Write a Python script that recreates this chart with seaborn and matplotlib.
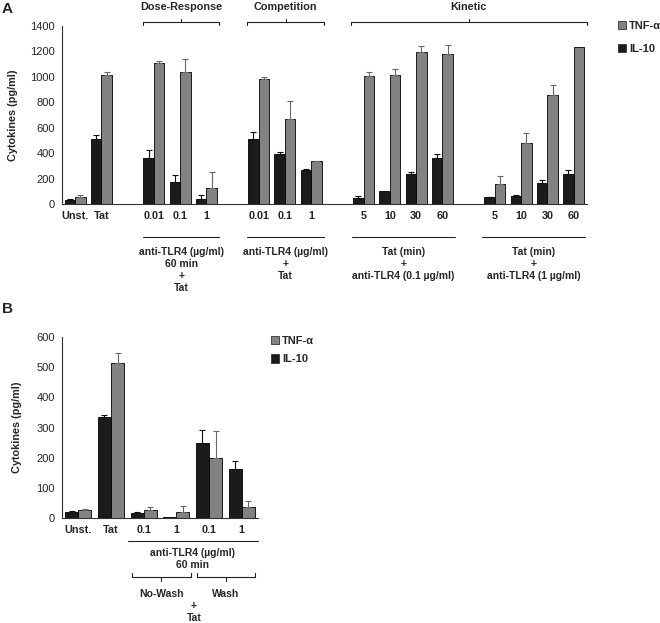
import numpy as np
import pandas as pd
import matplotlib
matplotlib.use('Agg')
import matplotlib.pyplot as plt
import matplotlib.patches as mpatches
import matplotlib.transforms as mtransforms
import seaborn as sns

# ---- data ----
# panel A: slots incl. empty gaps between the groups
slots_a = ['Unst', 'Tat', 'gap1', 'DR_0.01', 'DR_0.1', 'DR_1', 'gap2',
           'C_0.01', 'C_0.1', 'C_1', 'gap3',
           'K01_5', 'K01_10', 'K01_30', 'K01_60', 'gap4',
           'K1_5', 'K1_10', 'K1_30', 'K1_60']
ticks_a = ['Unst.', 'Tat', '', '0.01', '0.1', '1', '', '0.01', '0.1', '1', '',
           '5', '10', '30', '60', '', '5', '10', '30', '60']
il10_a = [31, 511, 359, 176, 42, 511, 393, 267, 47, 100, 233, 362, 52, 63, 168, 238]
il10_a_err = [11, 31, 63, 52, 29, 52, 16, 8, 16, 0, 16, 28, 6, 10, 21, 27]
tnf_a = [55, 1017, 1111, 1038, 123, 982, 671, 335, 1006, 1017, 1197, 1182, 160, 479, 859, 1234]
tnf_a_err = [16, 21, 16, 99, 126, 19, 141, 6, 32, 47, 45, 65, 60, 76, 74, 0]

# panel B
slots_b = ['Unst', 'Tat', 'NW_0.1', 'NW_1', 'W_0.1', 'W_1']
ticks_b = ['Unst.', 'Tat', '0.1', '1', '0.1', '1']
il10_b = [20, 336, 17, 2, 249, 161]
il10_b_err = [2, 6, 4, 0, 43, 27]
tnf_b = [28, 514, 25, 20, 200, 36]
tnf_b_err = [2, 32, 10, 19, 88, 19]

cytokines = ['IL-10', 'TNF-α']
colors = {'IL-10': '#1b1b1b', 'TNF-α': '#828282'}
err_colors = {'IL-10': '#111111', 'TNF-α': '#666666'}

sns.set_theme(style='white')
plt.rcParams['font.family'] = ['Liberation Sans', 'DejaVu Sans']
plt.rcParams['axes.linewidth'] = 0.8


def long_frame(slots, il10, il10_err, tnf, tnf_err):
    keys = [s for s in slots if not s.startswith('gap')]
    df = pd.DataFrame({
        'cond': keys * 2,
        'cytokine': ['IL-10'] * len(keys) + ['TNF-α'] * len(keys),
        'value': il10 + tnf,
        'err': il10_err + tnf_err,
    })
    return df


def draw_panel(ax, df, slots, ticks, ymax, ystep):
    sns.barplot(data=df, x='cond', y='value', hue='cytokine', order=slots,
                hue_order=cytokines, palette=colors, errorbar=None,
                edgecolor='black', linewidth=0.6, width=0.8, legend=False, ax=ax)
    errs = {(r.cond, r.cytokine): r.err for r in df.itertuples()}
    for cyt, cont in zip(cytokines, ax.containers):
        for bar in cont:
            xc = bar.get_x() + bar.get_width() / 2
            h = bar.get_height()
            if np.isnan(h):
                continue
            e = errs.get((slots[int(round(xc))], cyt), 0)
            if e > 0:
                ax.errorbar([xc], [h], yerr=[[0], [e]], fmt='none',
                            ecolor=err_colors[cyt], elinewidth=0.8,
                            capsize=2, capthick=0.8)
    n = len(slots)
    ax.set_xlim(-0.5, n - 0.5)
    ax.set_ylim(0, ymax)
    ax.set_yticks(np.arange(0, ymax + 1, ystep))
    ax.set_xticks(range(n))
    ax.set_xticklabels(ticks, fontweight='bold', fontsize=7.8)
    ax.set_xticks(np.arange(-0.5, n), minor=True)
    ax.tick_params(axis='x', which='major', length=0, pad=5)
    ax.tick_params(axis='x', which='minor', length=3, width=0.8, direction='out', color='#333333')
    ax.tick_params(axis='y', length=3, width=0.8, direction='out', labelsize=8, pad=2, color='#333333')
    ax.set_xlabel('')
    ax.set_ylabel('Cytokines (pg/ml)', fontweight='bold', fontsize=7.8)
    for s in ['top', 'right']:
        ax.spines[s].set_visible(False)
    for s in ['left', 'bottom']:
        ax.spines[s].set_color('#333333')


def hline(ax, x0, x1, y, ticks=()):
    tr = mtransforms.blended_transform_factory(ax.transData, ax.transAxes)
    ax.plot([x0, x1], [y, y], color='#222222', lw=0.8, transform=tr, clip_on=False)
    for xt, dy in ticks:
        ax.plot([xt, xt], [y, y + dy], color='#222222', lw=0.8, transform=tr, clip_on=False)


def label(ax, x, y, s, size=7.5, va='center'):
    tr = mtransforms.blended_transform_factory(ax.transData, ax.transAxes)
    ax.text(x, y, s, transform=tr, ha='center', va=va, fontsize=size,
            fontweight='bold', linespacing=1.25)


fig = plt.figure(figsize=(6.6, 6.23), dpi=100)
axA = fig.add_axes([0.0939, 0.6726, 0.795, 0.2857])
axB = fig.add_axes([0.0939, 0.1685, 0.297, 0.2905])

# ---- panel A ----
dfA = long_frame(slots_a, il10_a, il10_a_err, tnf_a, tnf_a_err)
draw_panel(axA, dfA, slots_a, ticks_a, 1400, 200)
axA.yaxis.set_label_coords(-0.083, 0.5)

# top brackets
for x0, x1, name in [(2.6, 5.5, 'Dose-Response'), (6.55, 9.5, 'Competition'),
                     (10.5, 19.5, 'Kinetic')]:
    hline(axA, x0, x1, 1.0225,
          ticks=[(x0, -0.018), (x1, -0.018), ((x0 + x1) / 2, 0.018)])
    label(axA, (x0 + x1) / 2, 1.136, name, size=7.8, va='top')

# bottom group descriptions
for x0, x1, txt in [(2.6, 5.5, 'anti-TLR4 (µg/ml)\n60 min\n+\nTat'),
                    (6.55, 9.5, 'anti-TLR4 (µg/ml)\n+\nTat'),
                    (10.55, 14.47, 'Tat (min)\n+\nanti-TLR4 (0.1 µg/ml)'),
                    (15.5, 19.45, 'Tat (min)\n+\nanti-TLR4 (1 µg/ml)')]:
    hline(axA, x0, x1, -0.185)
    label(axA, (x0 + x1) / 2, -0.24, txt, va='top')

handles = [mpatches.Patch(facecolor=colors[c], edgecolor='#333333', linewidth=0.6)
           for c in ['TNF-α', 'IL-10']]
axA.legend(handles, ['TNF-α', 'IL-10'], loc='upper left',
           bbox_to_anchor=(618 / 660, 1 - 21 / 623), bbox_transform=fig.transFigure,
           frameon=False, handlelength=0.75, handleheight=0.75, handletextpad=0.25,
           labelspacing=1.15, borderpad=0, borderaxespad=0,
           prop={'weight': 'bold', 'size': 8})

# ---- panel B ----
dfB = long_frame(slots_b, il10_b, il10_b_err, tnf_b, tnf_b_err)
draw_panel(axB, dfB, slots_b, ticks_b, 600, 100)
axB.yaxis.set_label_coords(-0.205, 0.5)

hline(axB, 1.52, 5.5, -0.127)
label(axB, 3.5, -0.163, 'anti-TLR4 (µg/ml)\n60 min', va='top')
for x0, x1, name in [(1.64, 3.45, 'No-Wash'), (3.63, 5.41, 'Wash')]:
    hline(axB, x0, x1, -0.326,
          ticks=[(x0, 0.022), (x1, 0.022), ((x0 + x1) / 2, -0.022)])
    label(axB, (x0 + x1) / 2, -0.42, name)
label(axB, 3.54, -0.458, '+\nTat', va='top')

axB.legend(handles, ['TNF-α', 'IL-10'], loc='upper left',
           bbox_to_anchor=(271 / 660, 1 - 336 / 623), bbox_transform=fig.transFigure,
           frameon=False, handlelength=0.75, handleheight=0.75, handletextpad=0.25,
           labelspacing=0.75, borderpad=0, borderaxespad=0,
           prop={'weight': 'bold', 'size': 8})

# panel letters
fig.text(2 / 660, 1 - 2 / 623, 'A', fontsize=11, fontweight='bold', va='top')
fig.text(2 / 660, 1 - 302 / 623, 'B', fontsize=11, fontweight='bold', va='top')

fig.savefig('out.png', dpi=100)
